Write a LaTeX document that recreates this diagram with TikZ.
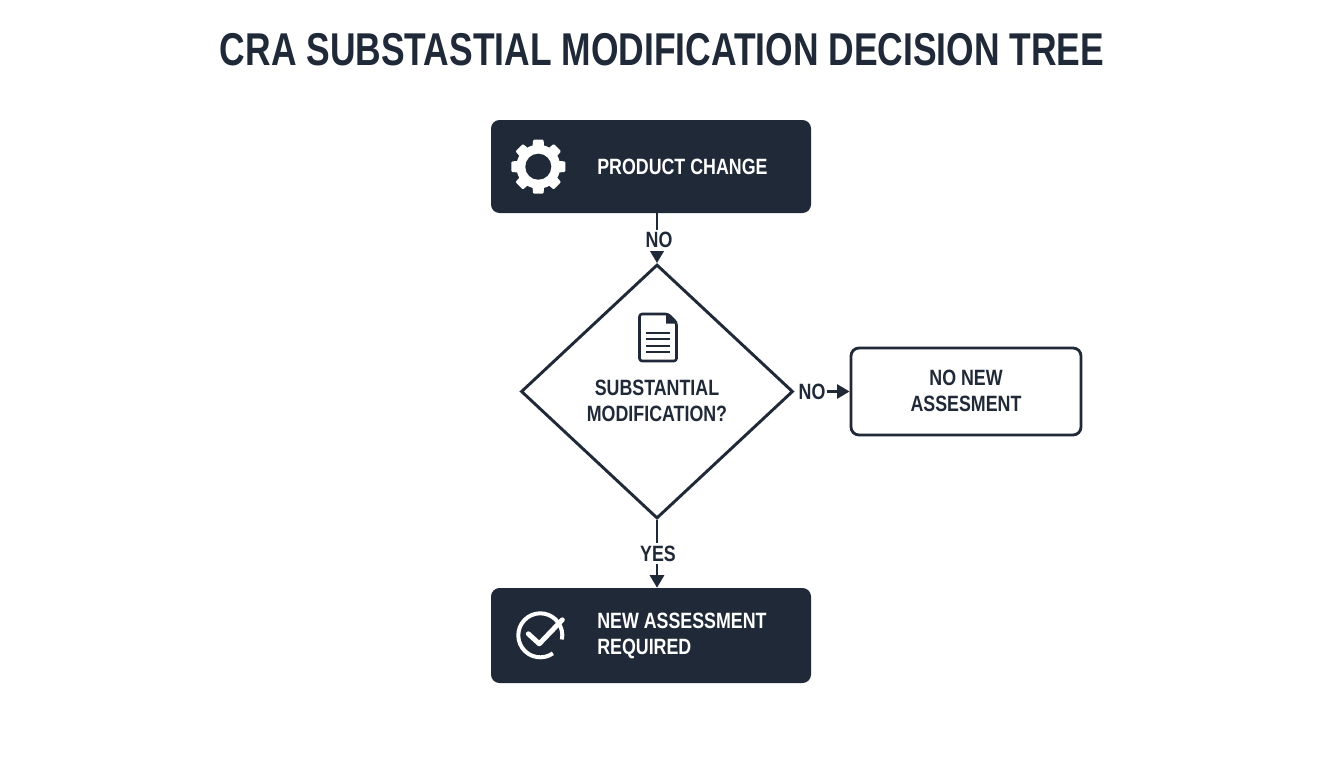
\documentclass[tikz,border=0pt]{standalone}
\usepackage{fontspec}
\setmainfont{Liberation Sans}
\newfontfamily\narrowbold[FakeStretch=0.805]{Liberation Sans Bold}
\newfontfamily\titlebold[FakeStretch=0.77]{Liberation Sans Bold}
\usetikzlibrary{shapes.geometric,arrows.meta}
\definecolor{ink}{HTML}{1F2937}
\tikzset{
  darkbox/.style={draw=none,fill=ink,rounded corners=6.4pt,minimum width=240pt,minimum height=69.75pt,inner sep=0pt},
  lightbox/.style={draw=ink,line width=2.1pt,fill=white,rounded corners=6pt,minimum width=172.5pt,minimum height=65.25pt,inner sep=0pt},
  decision/.style={draw=ink,line width=2.2pt,fill=white,shape=diamond,minimum width=204pt,minimum height=190.5pt,inner sep=0pt},
  txt/.style={font=\narrowbold\fontsize{16.6pt}{19.5pt}\selectfont,text=ink,inner sep=0pt,align=center},
  whitetxt/.style={txt,text=white,align=left},
  flowlabel/.style={txt,fill=white,inner xsep=1pt,inner ysep=2pt},
  flow/.style={draw=ink,line width=2pt,-{Triangle[length=9.4pt,width=10.5pt]}},
}
\begin{document}
\begin{tikzpicture}[x=0.75pt,y=-0.75pt]
\useasboundingbox (0,0) rectangle (1344,768);
\fill[white] (0,0) rectangle (1344,768);
\node[txt,font=\titlebold\fontsize{34.5pt}{40pt}\selectfont] (title) at (662,50) {CRA SUBSTASTIAL MODIFICATION DECISION TREE};
\node[darkbox] (change) at (651,166.5) {};
\node[decision] (sub) at (657,391.5) {};
\node[lightbox] (none) at (966,391.5) {};
\node[darkbox,minimum height=71.25pt] (need) at (651,635.5) {};
\node[whitetxt,anchor=west] (changetxt) at (597,167) {PRODUCT CHANGE};
\node[whitetxt,anchor=west] (needtxt) at (597,635.5) {NEW ASSESSMENT\\REQUIRED};
\node[txt] (subtxt) at (657,400.5) {SUBSTANTIAL\\MODIFICATION?};
\node[txt] (nonetxt) at (966,391) {NO NEW\\ASSESMENT};
% connectors
\draw[flow] (sub.north |- change.south) -- (sub.north);
\draw[flow] (sub.south) -- (sub.south |- need.north);
\node[flowlabel] (l1) at (659,240) {NO};
\node[flowlabel] (l2) at (812,391.5) {NO};
\node[flowlabel] (l3) at (658,553.5) {YES};
\draw[flow] (l2.east) -- (none.west);
% gear
\begin{scope}[shift={(538.3,166.7)}]
\fill[white] (0,0) circle[radius=22];
\foreach \a in {0,45,...,315}{
  \fill[white,rounded corners=0.8pt] (\a-17:20) -- (\a-11:27.5) -- (\a+11:27.5) -- (\a+17:20) -- cycle;
}
\fill[ink] (0,0) circle[radius=13];
\end{scope}
% document
\begin{scope}[draw=ink,line width=2pt]
\draw[rounded corners=2pt,line join=round] (668,314) -- (639.5,314) -- (639.5,361) -- (676.5,361) -- (676.5,322.5) -- cycle;
\fill[ink] (666,314) -- (676.5,323.5) -- (666,323.5) -- cycle;
\foreach \yy in {332.7,339.3,346,352.3}{
  \draw[line width=1.7pt] (646,\yy) -- (670,\yy);
}
\end{scope}
% check
\begin{scope}[shift={(540.3,635.3)}]
\draw[white,line width=3pt] (55:22) arc[start angle=55,end angle=371,radius=22];
\draw[white,line width=3.7pt,line cap=round,line join=round] (-12,-1.5) -- (-1,8.5) -- (22,-15.5);
\end{scope}
\end{tikzpicture}
\end{document}
